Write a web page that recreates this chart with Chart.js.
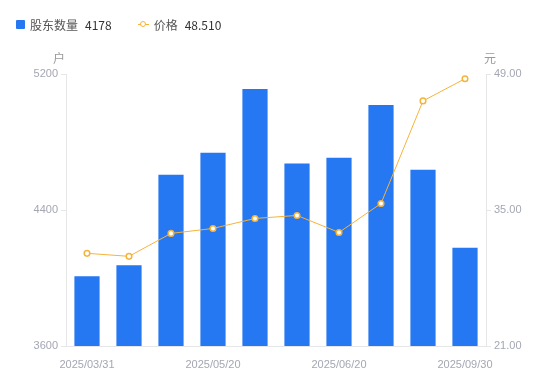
<!DOCTYPE html>
<html>
<head>
<meta charset="utf-8">
<script src="https://cdn.jsdelivr.net/npm/chart.js@4"></script>
<style>
    html, body { margin: 0; padding: 0; background: #fff; }
    #wrap { position: relative; width: 550px; height: 381px; }
    #legend {
        position: absolute; left: 16px; top: 16px;
        font: 12px "Noto Sans CJK SC", "Liberation Sans", sans-serif; color: #333;
        display: flex; align-items: center;
    }
    .item { display: flex; align-items: center; margin-right: 26px; }
    .sq { width: 9px; height: 9px; background: #2677f2; border-radius: 1px; margin-right: 5px; }
    .ln { position: relative; width: 11px; height: 9px; margin-right: 5px; }
    .ln::before { content: ''; position: absolute; left: 0; right: 0; top: 4px; height: 1px; background: #f6b33c; }
    .ln::after { content: ''; position: absolute; left: 2px; top: 1px; width: 4px; height: 4px; border: 1.5px solid #f6b33c; border-radius: 50%; background: #fff; }
    .lbl { color: #555; margin-right: 7px; }
</style>
</head>
<body>
<div id="wrap">
    <canvas id="c" width="550" height="381"></canvas>
    <div id="legend">
        <div class="item"><span class="sq"></span><span class="lbl">股东数量</span><span>4178</span></div>
        <div class="item"><span class="ln"></span><span class="lbl">价格</span><span>48.510</span></div>
    </div>
</div>
<script>
const dates = ['2025/03/31', '2025/04/10', '2025/04/30', '2025/05/20', '2025/05/30',
    '2025/06/10', '2025/06/20', '2025/06/30', '2025/08/31', '2025/09/30'];
const holders = [4010, 4075, 4608, 4737, 5112, 4673, 4708, 5018, 4637, 4178];
const prices = [30.54, 30.23, 32.59, 33.10, 34.13, 34.44, 32.69, 35.67, 46.23, 48.51];
const leftTicks = [3600, 4400, 5200];
const rightTicks = [21, 35, 49];

const tickColor = '#a4a7b3';
const lineColor = '#e6e6e6';

// axis unit titles 户 / 元
const unitTitles = {
    id: 'unitTitles',
    afterDraw(chart) {
        const { ctx, chartArea } = chart;
        ctx.save();
        ctx.font = '12px "Noto Sans CJK SC", sans-serif';
        ctx.fillStyle = '#999';
        ctx.textBaseline = 'middle';
        ctx.textAlign = 'center';
        ctx.fillText('户', chartArea.left - 7, chartArea.top - 16);
        ctx.fillText('元', chartArea.right + 4, chartArea.top - 16);
        ctx.restore();
    }
};

new Chart(document.getElementById('c'), {
    data: {
        labels: dates,
        datasets: [
            {
                type: 'line', label: '价格', data: prices, yAxisID: 'y1',
                borderColor: '#f6b33c', borderWidth: 1,
                pointRadius: 2.8, pointBorderWidth: 1.5,
                pointBackgroundColor: '#fff', pointBorderColor: '#f6b33c',
                tension: 0, order: 0
            },
            {
                type: 'bar', label: '股东数量', data: holders, yAxisID: 'y',
                backgroundColor: '#2677f2',
                categoryPercentage: 1, barPercentage: 0.6, order: 1
            }
        ]
    },
    options: {
        responsive: false,
        animation: false,
        layout: { padding: { top: 74, left: 0, right: 1, bottom: 0 } },
        plugins: { legend: { display: false }, tooltip: { enabled: false } },
        scales: {
            x: {
                grid: { display: false },
                border: { color: lineColor },
                ticks: {
                    color: tickColor, font: { size: 11 }, maxRotation: 0, autoSkip: false, padding: 4,
                    callback: (v, i) => i % 3 === 0 ? dates[i] : ''
                },
                afterFit: s => { s.height = 35; }
            },
            y: {
                position: 'left', min: 3600, max: 5200,
                afterBuildTicks: s => { s.ticks = leftTicks.map(v => ({ value: v })); },
                grid: { drawOnChartArea: false, tickLength: 5, color: lineColor },
                border: { color: lineColor },
                ticks: { color: tickColor, font: { size: 11 }, padding: 3, callback: v => String(v) },
                afterFit: s => { s.width = 66; }
            },
            y1: {
                position: 'right', min: 21, max: 49,
                afterBuildTicks: s => { s.ticks = rightTicks.map(v => ({ value: v })); },
                grid: { drawOnChartArea: false, tickLength: 5, color: lineColor },
                border: { color: lineColor },
                ticks: { color: tickColor, font: { size: 11 }, padding: 3, callback: v => v.toFixed(2) },
                afterFit: s => { s.width = 63; }
            }
        }
    },
    plugins: [unitTitles]
});
</script>
</body>
</html>
